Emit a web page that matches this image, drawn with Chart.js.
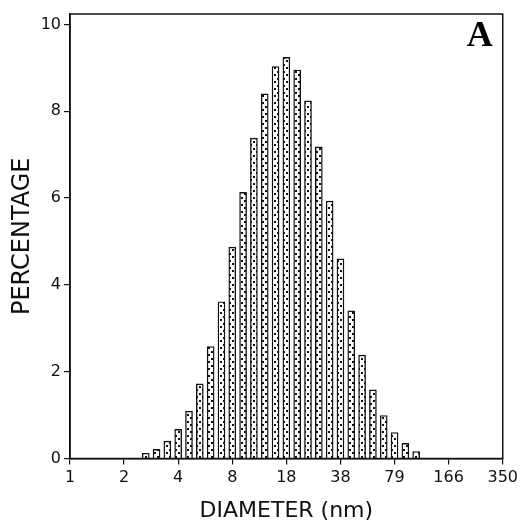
<!DOCTYPE html>
<html><head><meta charset="utf-8">
<script src="https://cdn.jsdelivr.net/npm/chart.js@4/dist/chart.umd.min.js"></script>
<style>html,body{margin:0;padding:0;background:#fff;} canvas{display:block;}</style>
</head><body>
<canvas id="c" width="522" height="527"></canvas>
<script>
// ---- data ----
const xTickLabels = ['1','2','4','8','18','38','79','166','350'];
const binsPerTick = 5;      // histogram bins per labelled tick interval
const firstBin = 7;         // index of first non-empty bin
const percentages = [0.12,0.21,0.40,0.67,1.09,1.72,2.58,3.61,4.87,6.13,7.38,8.40,9.03,9.24,8.95,8.24,7.18,5.93,4.60,3.40,2.38,1.58,0.99,0.60,0.35,0.16];
const yTickValues = [0,2,4,6,8,10];
const xTitle = 'DIAMETER (nm)';
const yTitle = 'PERCENTAGE';
const panelLabel = 'A';

function makePattern(){
  const c = document.createElement('canvas'); c.width = 6; c.height = 7;
  const g = c.getContext('2d');
  g.fillStyle = '#fff'; g.fillRect(0,0,6,7);
  g.fillStyle = '#111';
  g.fillRect(1,1,2,2);
  g.fillRect(4,4,2,2);
  return g.createPattern(c,'repeat');
}

const framePlugin = {
  id:'frame',
  afterDraw(chart){
    const {ctx, chartArea:a} = chart;
    ctx.save();
    ctx.strokeStyle = '#111'; ctx.lineWidth = 1.5;
    ctx.strokeRect(a.left, a.top, a.right-a.left, a.bottom-a.top);
    ctx.fillStyle = '#000';
    ctx.font = 'bold 36px "Liberation Serif"';
    ctx.textAlign = 'right'; ctx.textBaseline = 'alphabetic';
    ctx.fillText(panelLabel, a.right - 10, a.top + 32);
    ctx.restore();
  }
};

const tickFont = {family:'DejaVu Sans', size:16};

new Chart(document.getElementById('c').getContext('2d'), {
  type:'bar',
  data:{datasets:[{
    data: percentages.map((v,i)=>({x:(firstBin+i)/binsPerTick, y:v})),
    backgroundColor: makePattern(),
    borderColor:'#111',
    borderWidth:1.4,
    borderSkipped:'bottom',
    barThickness:7
  }]},
  options:{
    responsive:false, animation:false, devicePixelRatio:1,
    layout:{padding:{left:0, top:14, right:17, bottom:0}},
    plugins:{legend:{display:false}, tooltip:{enabled:false}},
    scales:{
      x:{
        type:'linear', min:0, max:xTickLabels.length-1, offset:false,
        ticks:{stepSize:1, autoSkip:false, maxRotation:0, color:'#111', font:tickFont, padding:4,
               callback:(v)=>xTickLabels[v]},
        grid:{offset:false, drawOnChartArea:false, drawTicks:true, tickLength:6, color:'#111', lineWidth:1.2},
        border:{display:true, color:'#111', width:1.5},
        title:{display:true, text:xTitle, font:{family:'DejaVu Sans', size:22}, color:'#111', padding:{top:0, bottom:3}},
        afterFit:(s)=>{ s.height = 68.5; }
      },
      y:{
        min:0, max:10.24,
        afterBuildTicks:(s)=>{ s.ticks = yTickValues.map(v=>({value:v})); },
        ticks:{color:'#111', font:tickFont, padding:3},
        grid:{drawOnChartArea:false, drawTicks:true, tickLength:6, color:'#111', lineWidth:1.2},
        border:{display:true, color:'#111', width:1.5},
        title:{display:true, text:yTitle, font:{family:'DejaVu Sans', size:24}, color:'#111', padding:{top:8, bottom:0}},
        afterFit:(s)=>{ s.width = 70; }
      }
    }
  },
  plugins:[framePlugin]
});
</script>
</body></html>
